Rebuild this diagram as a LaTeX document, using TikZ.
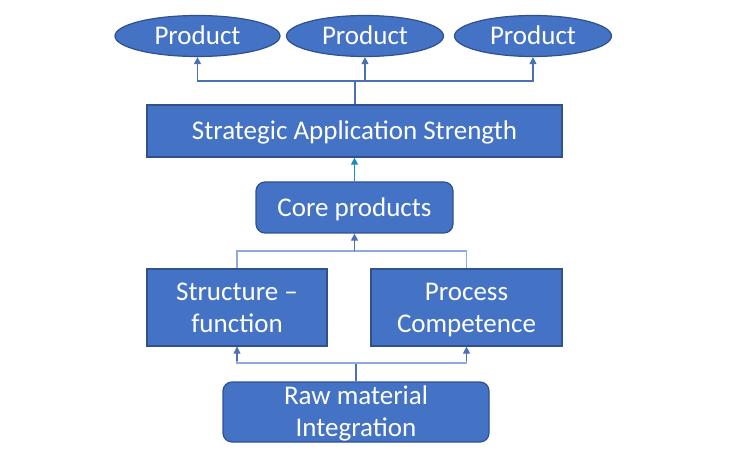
\documentclass[tikz,border=0pt]{standalone}
\usepackage{fontspec}
\setmainfont{Carlito}
\usetikzlibrary{arrows.meta,shapes.geometric}
\definecolor{boxfill}{RGB}{68,114,196}
\definecolor{boxline}{RGB}{47,82,143}
\definecolor{connA}{RGB}{76,112,180}
\definecolor{connB}{RGB}{143,170,220}
\definecolor{connC}{RGB}{30,140,195}
\newcommand{\twolines}[2]{\raisebox{0pt}[49pt][0pt]{\begin{tabular}[b]{@{}c@{}}#1\\#2\end{tabular}}}
\tikzset{
  base/.style={fill=boxfill, draw=boxline, line width=1.2pt, text=white, inner sep=0pt,
    font=\fontsize{27}{32}\selectfont, align=center},
  oneline/.style={text height=20pt, text depth=2pt},
  rectbox/.style={base, rectangle},
  roundbox/.style={base, rectangle, rounded corners=9pt},
  ellbox/.style={base, ellipse, oneline},
  conn/.style={draw=connA, line width=1.1pt},
  connlight/.style={draw=connB, line width=1.1pt},
  tip/.style={-{Triangle[width=7pt,length=7pt,fill=connA]}},
}
\begin{document}
\begin{tikzpicture}[x=1pt,y=-1pt]
\useasboundingbox (0,0) rectangle (754,454);
% top products
\node[ellbox, minimum width=165pt, minimum height=41pt] (p1) at (197.5,36) {Product};
\node[ellbox, minimum width=157pt, minimum height=41pt] (p2) at (365,36) {Product};
\node[ellbox, minimum width=157pt, minimum height=41pt] (p3) at (533,36) {Product};
% boxes
\node[rectbox, oneline, minimum width=415pt, minimum height=52pt] (sas) at (354.5,131) {Strategic Application Strength};
\node[roundbox, oneline, minimum width=197pt, minimum height=51pt] (core) at (354.5,207.5) {Core products};
\node[rectbox, minimum width=180pt, minimum height=77pt] (sf) at (237,307.5) {\twolines{Structure –}{function}};
\node[rectbox, minimum width=191pt, minimum height=77pt] (pc) at (466.5,307.5) {\twolines{Process}{Competence}};
\node[roundbox, minimum width=266pt, minimum height=60pt] (raw) at (356,412) {\twolines{Raw material}{Integration}};
% junctions
\coordinate (j1) at (355,81);
\coordinate (j2) at (354.5,251);
\coordinate (j3) at (356,363);
% connectors top
\draw[conn] (sas.north -| j1) -- (j1);
\draw[conn, tip] (j1) -| (p1.south);
\draw[conn, tip] (j1) -| (p2.south);
\draw[conn, tip] (j1) -| (p3.south);
% core -> sas
\draw[draw=connC, line width=1.1pt, -{Triangle[width=7pt,length=7pt,fill=connC]}] (core.north) -- (sas.south);
% sf, pc -> core
\draw[connlight] (sf.north) |- (j2);
\draw[connlight] (pc.north) |- (j2);
\draw[conn, tip] (j2) -- (core.south);
% raw -> sf, pc
\draw[conn] (raw.north -| j3) -- (j3);
\draw[connlight] (j3) -| (sf.south);
\draw[connlight] (j3) -| (pc.south);
\draw[conn, tip] ([yshift=-14pt]sf.south) -- (sf.south);
\draw[conn, tip] ([yshift=-14pt]pc.south) -- (pc.south);
\end{tikzpicture}
\end{document}
